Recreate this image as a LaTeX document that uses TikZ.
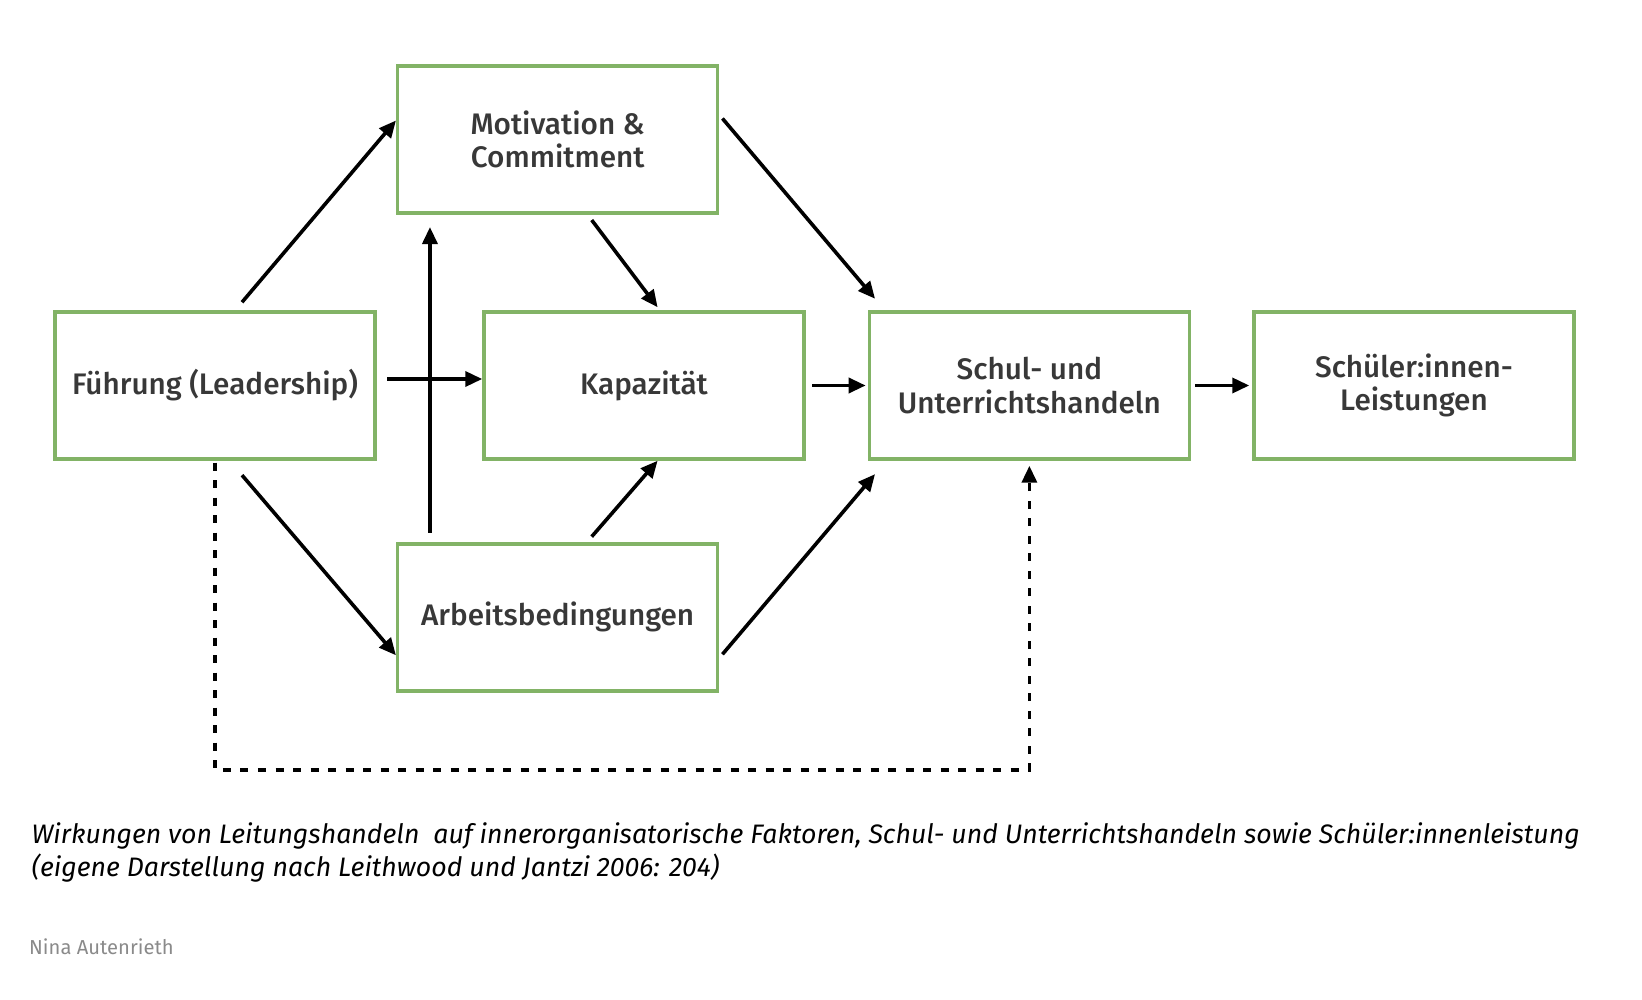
\documentclass[tikz,border=0pt]{standalone}
\usepackage{fontspec}
\setmainfont{Fira Sans}
\newfontfamily\boxfont{Fira Sans Medium}
\usepackage{tikz}
\usetikzlibrary{arrows.meta,positioning}
\definecolor{boxgreen}{HTML}{82B366}
\definecolor{labelgray}{HTML}{383838}
\definecolor{authorgray}{HTML}{8A8A8A}

\begin{document}
\begin{tikzpicture}[x=1pt,y=1pt,on grid,node distance=429pt,
    box/.style={rectangle, draw=boxgreen, line width=3.5pt, minimum width=320pt, minimum height=147pt,
      align=center, text=labelgray, font=\boxfont\fontsize{29.7}{33.5}\selectfont},
    arr/.style={-{Triangle[length=17pt,width=15pt]}, line width=3.6pt},
    dasharr/.style={arr, dash pattern=on 8pt off 9.5pt},
    caption/.style={anchor=base west, inner sep=0pt, font=\fontsize{26.7}{32.5}\selectfont\itshape}]
    \useasboundingbox (-215,385.5) rectangle (1427,-614.5);
		\node[box] (fuehrung) {Führung (Leadership)};
		\node[box] (kapazitaet) [right=of fuehrung] {Kapazität};
		\node[box] (motivation) [above right=246pt and 342.7pt of fuehrung] {Motivation \&\\Commitment};
		\node[box] (arbeit) [below right=231.8pt and 342.7pt of fuehrung] {Arbeitsbedingungen};
		\node[box] (schul) [node distance=385.4pt,right=of kapazitaet] {Schul- und\\Unterrichtshandeln};
		\node[box] (schueler) [node distance=384.6pt,right=of schul] {Schüler:innen-\\Leistungen};
		\draw[arr] ([shift={(27,8)}]fuehrung.north) -- ([yshift=19pt]motivation.west);
		\draw[arr] ([shift={(34,9.4)}]arbeit.north west) -- ([shift={(34,-12.3)}]motivation.south west);
		\draw[arr] ([shift={(10.5,6.5)}]fuehrung.east) -- ([yshift=6.5pt]kapazitaet.west);
		\draw[arr] ([shift={(34,-5.3)}]motivation.south) -- ([shift={(13.6,3)}]kapazitaet.north);
		\draw[arr] ([shift={(3,21)}]motivation.east) -- ([shift={(7.4,11.5)}]schul.north west);
		\draw[arr] ([xshift=6.6pt]kapazitaet.east) -- ([xshift=-2pt]schul.west);
		\draw[arr] ([xshift=4pt]schul.east) -- ([xshift=-3pt]schueler.west);
		\draw[arr] ([shift={(27,-14.4)}]fuehrung.south) -- ([yshift=-38pt]arbeit.west);
		\draw[arr] ([shift={(34,5.4)}]arbeit.north) -- ([xshift=13.6pt]kapazitaet.south);
		\draw[arr] ([shift={(3,-37)}]arbeit.east) -- ([shift={(7.4,-13.4)}]schul.south west);
		\draw[dasharr] ([yshift=-2pt]fuehrung.south) -- ++(0,-307) -| ([yshift=-5pt]schul.south);
		\node[caption] (caption1) at (-183.6,-458.5) {Wirkungen von Leitungshandeln\ \ auf innerorganisatorische Faktoren, Schul- und Unterrichtshandeln sowie Schüler:innenleistung};
		\node[caption] (caption2) at (-183.6,-491.2) {(eigene Darstellung nach Leithwood und Jantzi 2006: 204)};
		\node[anchor=base west, inner sep=0pt, text=authorgray, font=\fontsize{20.2}{23}\selectfont] (autor) at (-186,-568.5) {Nina Autenrieth};
	\end{tikzpicture}
\end{document}
